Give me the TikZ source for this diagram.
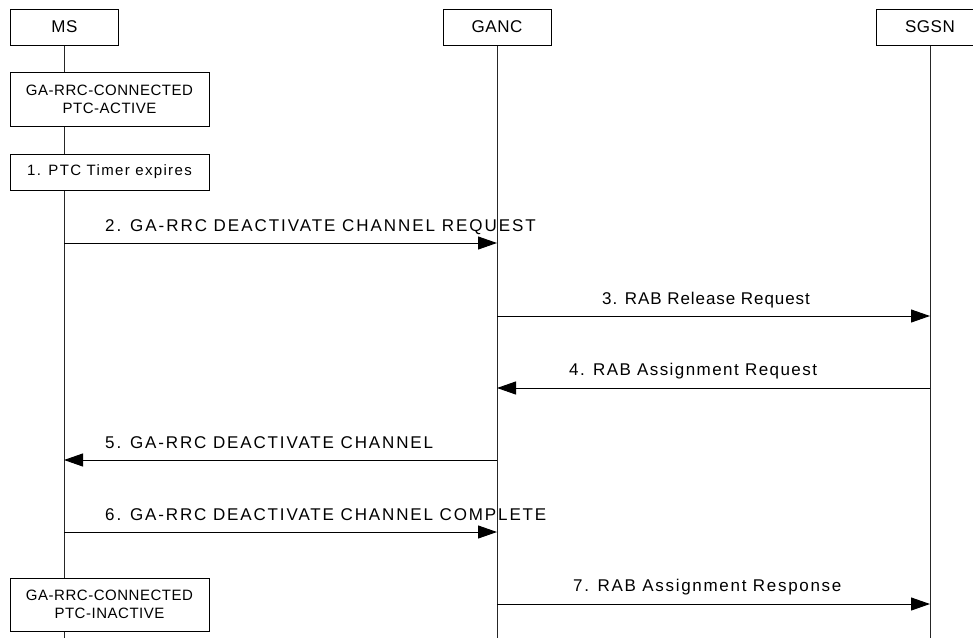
\documentclass[tikz,border=0pt]{standalone}
\usepackage{fontspec}
\setmainfont{Liberation Sans}
\usetikzlibrary{arrows.meta}
\begin{document}
\begin{tikzpicture}[x=1pt,y=-1pt,
  entity/.style={draw,line width=1pt,fill=white,minimum width=108pt,minimum height=36pt,inner sep=0pt,font=\fontsize{17}{20}\selectfont\addfontfeatures{LetterSpace=3}},
  statebox/.style={draw,line width=1pt,fill=white,minimum width=199pt,inner sep=0pt,align=center,font=\fontsize{15}{18}\selectfont\addfontfeatures{LetterSpace=#1}},
  lifeline/.style={line width=1pt,draw=black!85},
  msg/.style={line width=1pt,-{Triangle[length=19pt,width=13pt]}},
  msglbl/.style={anchor=base west,inner sep=0pt,font=\fontsize{17}{20}\selectfont\addfontfeatures{LetterSpace=#1}}]
\useasboundingbox (0,0) rectangle (973,637);
\clip (0,0) rectangle (973,637);
\fill[white] (0,0) rectangle (973,637);
% entities
\node[entity] (ms) at (64.5,27) {MS};
\node[entity] (ganc) at (497,27) {GANC};
\node[entity] (sgsn) at (930,27) {SGSN};
\coordinate (msend) at (64,640);
\coordinate (gancend) at (497,640);
\coordinate (sgsnend) at (930,640);
\draw[lifeline] (ms.south -| msend) -- (msend);
\draw[lifeline] (ganc.south) -- (gancend);
\draw[lifeline] (sgsn.south) -- (sgsnend);
% MS-side boxes
\node[statebox=3.5,minimum height=54pt] (st1) at (109.5,99) {GA-RRC-CONNECTED\\PTC-ACTIVE};
\node[statebox=9,minimum height=36pt] (timer) at (109.5,172) {1. PTC Timer expires};
\node[statebox=3.5,minimum height=53pt] (st2) at (109.5,604.5) {GA-RRC-CONNECTED\\PTC-INACTIVE};
% message coordinates
\coordinate (a2) at (64,243);  \coordinate (b2) at (497,243);
\coordinate (a3) at (497,316); \coordinate (b3) at (930,316);
\coordinate (a4) at (930,388); \coordinate (b4) at (497,388);
\coordinate (a5) at (497,460); \coordinate (b5) at (64,460);
\coordinate (a6) at (64,532);  \coordinate (b6) at (497,532);
\coordinate (a7) at (497,604); \coordinate (b7) at (930,604);
\draw[msg] (a2) -- (b2);
\draw[msg] (a3) -- (b3);
\draw[msg] (a4) -- (b4);
\draw[msg] (a5) -- (b5);
\draw[msg] (a6) -- (b6);
\draw[msg] (a7) -- (b7);
% labels
\node[msglbl=11.5] (l2) at (105,231) {2. GA-RRC DEACTIVATE CHANNEL REQUEST};
\node[msglbl=5.5] (l3) at (602,304) {3. RAB Release Request};
\node[msglbl=8.5] (l4) at (569,375) {4. RAB Assignment Request};
\node[msglbl=11] (l5) at (105,448) {5. GA-RRC DEACTIVATE CHANNEL};
\node[msglbl=11] (l6) at (105,520) {6. GA-RRC DEACTIVATE CHANNEL COMPLETE};
\node[msglbl=10] (l7) at (573,591) {7. RAB Assignment Response};
\end{tikzpicture}
\end{document}
